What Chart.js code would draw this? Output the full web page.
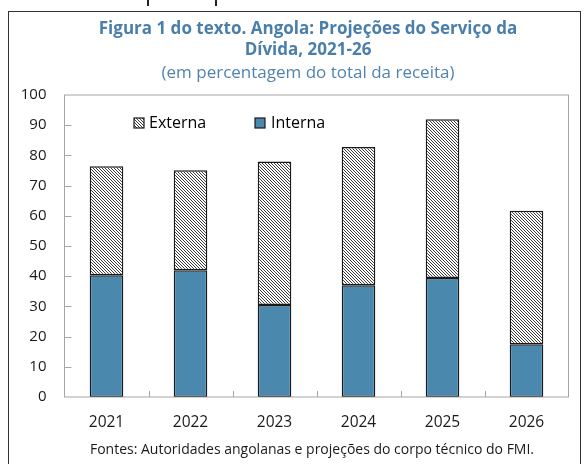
<!DOCTYPE html>
<html>
<head>
<meta charset="utf-8">
<script src="https://cdn.jsdelivr.net/npm/chart.js@4/dist/chart.umd.min.js"></script>
<style>
  html, body { margin: 0; padding: 0; background: #fff; }
  #wrap { position: relative; width: 584px; height: 464px; overflow: hidden; }
  #frame { position: absolute; left: 8px; top: 11px; width: 573px; height: 470px; border: 1.5px solid #333; box-sizing: border-box; pointer-events: none; }
  .mark { position: absolute; top: 0; width: 2px; height: 6px; background: #222; }
  canvas { position: absolute; left: 0; top: 0; }
</style>
</head>
<body>
<div id="wrap">
  <canvas id="c" width="584" height="464"></canvas>
  <div id="frame"></div>
  <div class="mark" style="left:147px"></div>
  <div class="mark" style="left:215px"></div>
</div>
<script>
const categories = ['2021', '2022', '2023', '2024', '2025', '2026'];
const interna = [40.3, 42.0, 30.5, 37.0, 39.4, 17.5];
const externa = [36.1, 33.1, 47.5, 45.8, 52.6, 44.2];
const seriesNames = ['Interna', 'Externa'];
const titleLines = ['Figura 1 do texto. Angola: Projeções do Serviço da', 'Dívida, 2021-26'];
const subtitleText = '(em percentagem do total da receita)';
const footerText = 'Fontes: Autoridades angolanas e projeções do corpo técnico do FMI.';

const FONT = "'Open Sans', 'Noto Sans', sans-serif";
const ctx = document.getElementById('c').getContext('2d');

function hatchPattern() {
  const s = 3;
  const t = document.createElement('canvas');
  t.width = s; t.height = s;
  const g = t.getContext('2d');
  g.fillStyle = '#ffffff';
  g.fillRect(0, 0, s, s);
  g.fillStyle = '#3c3c3c';
  for (let i = 0; i < s; i++) g.fillRect(i, i, 1, 1);
  return ctx.createPattern(t, 'repeat');
}
const hatch = hatchPattern();
const blue = '#4a88ae';

const decor = {
  id: 'decor',
  afterDraw(chart) {
    const c = chart.ctx;
    const a = chart.chartArea;
    const xs = chart.scales.x, ys = chart.scales.y;
    c.save();
    // plot frame
    c.strokeStyle = '#a6a6a6';
    c.lineWidth = 1;
    c.strokeRect(a.left, a.top, a.right - a.left, a.bottom - a.top);
    // y tick marks (inward)
    c.beginPath();
    for (let v = 10; v < 100; v += 10) {
      const y = Math.round(ys.getPixelForValue(v)) + 0.5;
      c.moveTo(a.left, y); c.lineTo(a.left + 7, y);
    }
    // x tick marks between categories (inward)
    for (let i = 0; i < categories.length - 1; i++) {
      const x = Math.round((xs.getPixelForValue(i) + xs.getPixelForValue(i + 1)) / 2) + 0.5;
      c.moveTo(x, a.bottom); c.lineTo(x, a.bottom - 6);
    }
    c.stroke();

    // title
    c.fillStyle = '#4a7eab';
    c.textAlign = 'center';
    c.textBaseline = 'middle';
    c.font = 'bold 17px ' + FONT;
    c.fillText(titleLines[0], 308, 29);
    c.fillText(titleLines[1], 308, 50);
    c.fillStyle = '#5183b0';
    c.font = '17px ' + FONT;
    c.fillText(subtitleText, 308, 73);

    // footer
    c.fillStyle = '#1a1a1a';
    c.font = '14px ' + FONT;
    c.fillText(footerText, 312, 450);

    // legend (inside plot)
    const items = [
      { ds: chart.data.datasets[1], bx: 134, tx: 149 },
      { ds: chart.data.datasets[0], bx: 255, tx: 271 }
    ];
    c.textAlign = 'left';
    c.font = '16px ' + FONT;
    items.forEach(it => {
      c.fillStyle = it.ds.backgroundColor;
      c.fillRect(it.bx, 118, 10, 10);
      c.strokeStyle = '#1a1a1a';
      c.lineWidth = 1.2;
      c.strokeRect(it.bx, 118, 10, 10);
      c.fillStyle = '#000';
      c.fillText(it.ds.label, it.tx, 123.5);
    });
    c.restore();
  }
};

new Chart(ctx, {
  type: 'bar',
  data: {
    labels: categories,
    datasets: [
      { label: seriesNames[0], data: interna, backgroundColor: blue, borderColor: '#1a1a1a', borderWidth: 1.5, borderSkipped: false },
      { label: seriesNames[1], data: externa, backgroundColor: hatch, borderColor: '#1a1a1a', borderWidth: 1.5, borderSkipped: false }
    ]
  },
  options: {
    responsive: false,
    animation: false,
    events: [],
    layout: { padding: { top: 95, right: 15.5, left: 0, bottom: 0 } },
    datasets: { bar: { barPercentage: 0.4, categoryPercentage: 1.0 } },
    plugins: { legend: { display: false }, title: { display: false }, tooltip: { enabled: false } },
    scales: {
      x: {
        stacked: true,
        grid: { display: false, drawTicks: false },
        border: { display: false },
        ticks: { color: '#1a1a1a', font: { family: FONT, size: 15.5 }, padding: 16 },
        afterFit: s => { s.height = 67; }
      },
      y: {
        stacked: true,
        min: 0, max: 100,
        grid: { display: false, drawTicks: false },
        border: { display: false },
        ticks: { stepSize: 10, color: '#1a1a1a', font: { family: FONT, size: 15 }, padding: 18 },
        afterFit: s => { s.width = 64.5; }
      }
    }
  },
  plugins: [decor]
});
</script>
</body>
</html>
